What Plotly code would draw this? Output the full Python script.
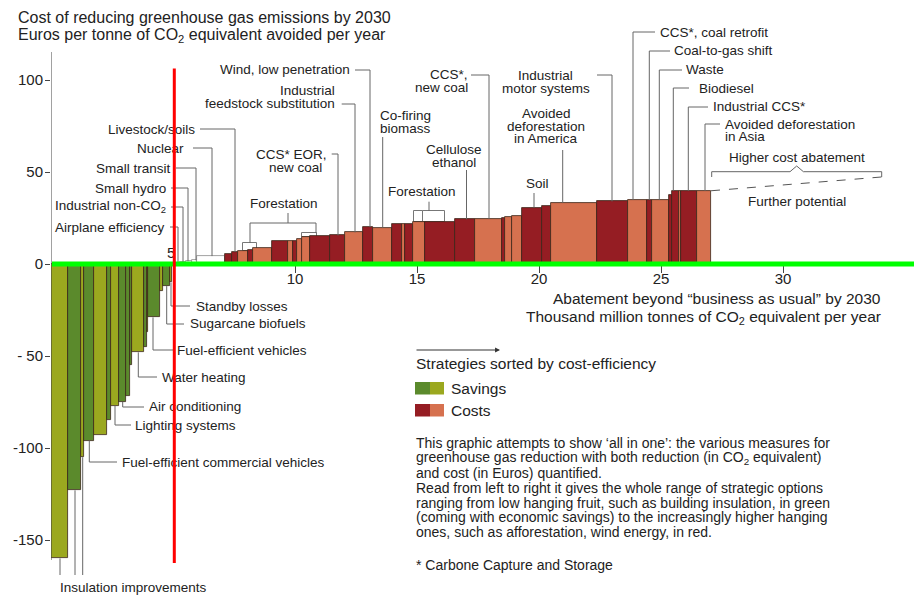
import numpy as np
import plotly.graph_objects as go

# ------------------------------------------------------------------ data
# Savings measures (negative cost), left to right: abatement width (Gt CO2e/yr) and cost (EUR/t)
saving_width = [0.71, 0.52, 0.14, 0.40, 0.52, 0.18, 0.30, 0.32, 0.16, 0.07,
                0.50, 0.12, 0.04, 0.49, 0.12, 0.29, 0.08]
saving_cost = [-160, -123, -105, -96, -93, -85, -77, -75, -72, -55,
               -48, -45, -37, -29, -14.5, -12, -10]
saving_shade = ['olive', 'green', 'olive', 'green', 'olive', 'green', 'olive', 'green', 'green', 'green',
                'olive', 'green', 'olive', 'green', 'olive', 'green', 'olive']

# Cost measures (positive cost), left to right
cost_width = [0.33, 0.25, 0.25, 0.20, 1.15, 0.27, 0.26, 0.41, 0.20, 0.77,
              0.68, 0.19, 0.16, 0.20, 0.33, 0.82, 0.61, 0.73, 0.41, 0.78,
              0.41, 0.14, 0.34, 0.48, 1.23, 0.82, 1.09, 0.14, 0.27, 0.41,
              0.82, 0.37, 1.91, 1.25, 0.78, 0.23, 0.66, 0.14, 0.27, 0.10,
              0.66, 0.57]
cost_value = [0.8, 1.2, 1.5, 2.0, 4.3, 5.3, 6.5, 7.2, 7.5, 8.7,
              12.5, 12.5, 12.5, 13.5, 14.5, 15.0, 15.5, 17.2, 20.0, 19.8,
              21.5, 21.5, 21.5, 22.6, 22.6, 24.3, 24.5, 25.0, 25.4, 26.0,
              30.7, 31.5, 33.3, 34.0, 34.8, 34.8, 34.8, 37.5, 39.8, 39.8,
              39.8, 39.8]
cost_shade = ['white', 'white', 'white', 'white', 'white', 'red', 'red', 'orange', 'red', 'orange',
              'red', 'orange', 'red', 'orange', 'orange', 'red', 'red', 'orange', 'red', 'orange',
              'red', 'orange', 'red', 'orange', 'red', 'red', 'orange', 'red', 'orange', 'orange',
              'red', 'red', 'orange', 'red', 'orange', 'red', 'orange', 'red', 'red', 'orange',
              'red', 'orange']

# Forestation (unfilled boxes stacked on top of the curve)
forest_start = [7.88, 10.27, 14.88, 15.26]
forest_width = [0.55, 0.62, 0.38, 0.89]
forest_base = [7.2, 14.5, 22.6, 22.6]
forest_top = [11.4, 16.8, 28.8, 28.8]

# Further potential (dashed projection)
further_end_x = 34.05
further_end_cost = 47.3

y_ticks = [-150, -100, -50, 0, 50, 100]
y_tick_text = ['-150', '-100', '- 50', '0', '50', '100']
x_ticks = [10, 15, 20, 25, 30]

# ------------------------------------------------------------------ layout helpers
W, H = 914, 599
ML = 51                    # left margin = pixel of x=0
PX0, PPX = 51.0, 24.4      # pixel of x=0, pixels per unit
PY0, PPY = 264.0, 1.84     # pixel of y=0, pixels per unit


def X(px):
    return (px - PX0) / PPX


def Y(py):
    return (PY0 - py) / PPY


def PXP(px):               # pixel -> paper x
    return (px - ML) / (W - ML)


def PYP(py):               # pixel -> paper y
    return 1 - py / H


FONT = "Liberation Sans, Arial, Helvetica, sans-serif"
TXT = "#222222"
LEAD = "#666666"
COLORS = {'olive': '#9ba81f', 'green': '#5b8a2c', 'red': '#951d23',
          'orange': '#d6714f', 'white': '#ffffff'}

widths = saving_width + cost_width
values = saving_cost + cost_value
shades = saving_shade + cost_shade
edges = np.concatenate([[0.0], np.cumsum(widths)])
centers = (edges[:-1] + edges[1:]) / 2


def top_at(xd):
    for s, w, t in zip(forest_start, forest_width, forest_top):
        if s <= xd <= s + w:
            return t
    i = int(np.searchsorted(edges, xd)) - 1
    i = min(max(i, 0), len(values) - 1)
    return values[i]


fig = go.Figure()

# forestation boxes (drawn first, bars overlay them)
fig.add_trace(go.Bar(
    x=[s + w / 2 for s, w in zip(forest_start, forest_width)],
    y=[t - b for t, b in zip(forest_top, forest_base)],
    base=forest_base, width=forest_width,
    marker=dict(color='white', line=dict(color='#777777', width=1)),
    hoverinfo='skip', showlegend=False))

# main abatement curve
fig.add_trace(go.Bar(
    x=centers, y=values, width=widths,
    marker=dict(color=[COLORS[s] for s in shades],
                line=dict(color=['#8a8a8a' if s == 'white' else '#3a2418' for s in shades],
                          width=0.8)),
    hoverinfo='skip', showlegend=False))

# ------------------------------------------------------------------ leaders
lx, ly = [], []


def path(points, attach=None):
    xs = [X(p[0]) for p in points]
    ys = [Y(p[1]) for p in points]
    if attach is not None:
        xs.append(X(attach))
        ys.append(top_at(X(attach)))
    lx.extend(xs + [None])
    ly.extend(ys + [None])


annos = []


def label(lines, px, py, xanchor='left', size=13.5, dy=13.0):
    if isinstance(lines, str):
        lines = [lines]
    for k, t in enumerate(lines):
        annos.append(dict(x=PXP(px), y=PYP(py + k * dy), xref='paper', yref='paper',
                          text=t, showarrow=False, borderpad=0,
                          xanchor=xanchor, yanchor='middle',
                          font=dict(size=size, family=FONT, color=TXT)))


# left small-cost labels (right aligned)
label("Livestock/soils", 196, 129, 'right'); path([(200, 129), (235, 129)], 235)
label("Nuclear", 185, 148, 'right'); path([(193, 148), (212, 148)], 212)
label("Small transit", 172, 168, 'right'); path([(176, 168), (196, 168)], 196)
label("Small hydro", 167, 188, 'right'); path([(171, 188), (188, 188)], 188)
label("Industrial non-CO<sub>2</sub>", 167, 207, 'right'); path([(171, 207), (183, 207)], 183)
label("Airplane efficiency", 166, 227, 'right'); path([(170, 227), (178, 227)], 178)

# top middle labels
label("Wind, low penetration", 351, 70, 'right'); path([(355, 70), (370, 70)], 370)
label(["Industrial", "feedstock substitution"], 336, 90, 'right', dy=14)
path([(341.7, 104), (355, 104)], 355)
label("CCS* EOR,", 328, 154, 'right'); label("new coal", 323, 167, 'right')
path([(331.7, 154), (338, 154)], 338)
label(["Co-firing", "biomass"], 379, 115, 'left', dy=13); path([(382.7, 137)], 382.7)
label(["CCS*,", "new coal"], 469, 75, 'right'); path([(471, 75), (489, 75)], 489)
label(["Cellulose", "ethanol"], 454, 149, 'center', dy=13); path([(466.5, 170)], 466.5)
label(["Industrial", "motor systems"], 545.7, 76, 'center', dy=13); path([(597, 75), (612, 75)], 612)
label(["Avoided", "deforestation", "in America"], 546, 113, 'center', dy=13); path([(562.7, 150)], 562.7)
label("Soil", 537.7, 183, 'center'); path([(534, 193)], 534)

# forestation brackets
label("Forestation", 284, 204, 'center')
path([(250, 223), (316, 223)])
path([(250, 223)], 250)
path([(316, 223)], 316)
path([(288, 223), (288, 213)])
label("Forestation", 421.7, 191.7, 'center')
path([(429, 211), (429, 201.7)])

# right labels
label("CCS*, coal retrofit", 659, 32, 'left'); path([(655, 32), (633, 32)], 633)
label("Coal-to-gas shift", 672.7, 51, 'left'); path([(670, 51), (649.3, 51)], 649.3)
label("Waste", 685, 70, 'left'); path([(682, 70), (659.3, 70)], 659.3)
label("Biodiesel", 698, 89, 'left'); path([(689, 88), (673.3, 88)], 673.3)
label("Industrial CCS*", 711.7, 107, 'left'); path([(708, 107), (688.3, 107)], 688.3)
label(["Avoided deforestation", "in Asia"], 724, 124, 'left', dy=13); path([(720, 124), (705, 124)], 705)
label("Higher cost abatement", 796.7, 157, 'center')
path([(711.7, 177), (711.7, 171.7), (790, 171.7), (796.7, 166), (803.4, 171.7),
      (881.7, 171.7), (881.7, 177)])
label("Further potential", 797, 201, 'center')

# savings labels (bottom left)
label("Standby losses", 195, 306); path([(190, 306), (171, 306)], 171)
label("Sugarcane biofuels", 189, 324); path([(184, 324), (166.7, 324)], 166.7)
label("Fuel-efficient vehicles", 176, 350.5); path([(174, 350), (153, 350)], 153)
label("Water heating", 161, 377); path([(157, 377), (138.3, 377)], 138.3)
label("Air conditioning", 148, 407); path([(144, 407), (122.7, 407)], 122.7)
label("Lighting systems", 134, 425); path([(131, 425), (115, 425)], 115)
label("Fuel-efficient commercial vehicles", 121, 462); path([(117, 462), (89.3, 462)], 89.3)
label("Insulation improvements", 59, 587)
path([(60, 575)], 60); path([(75, 575)], 75); path([(82.7, 575)], 82.7)

fig.add_trace(go.Scatter(x=lx, y=ly, mode='lines', line=dict(color=LEAD, width=1),
                         hoverinfo='skip', showlegend=False))

# further potential dashed line
fig.add_trace(go.Scatter(x=[edges[-1], further_end_x], y=[values[-1], further_end_cost],
                         mode='lines', line=dict(color='#555555', width=1, dash='dash'),
                         hoverinfo='skip', showlegend=False))

# "5" marker above axis
label("5", 170.5, 252, 'center', size=15)

# titles
label("Cost of reducing greenhouse gas emissions by 2030", 17, 17, 'left', size=16)
label("Euros per tonne of CO<sub>2</sub> equivalent avoided per year", 17, 36, 'left', size=16)
label("Abatement beyond “business as usual” by 2030", 882, 298, 'right', size=15.5)
label("Thousand million tonnes of CO<sub>2</sub> equivalent per year", 882, 317, 'right', size=15.5)

# legend block
label("Strategies sorted by cost-efficiency", 415, 363, 'left', size=15.5)
label("Savings", 450, 388, 'left', size=15.5)
label("Costs", 450, 410.5, 'left', size=15.5)
para = ["This graphic attempts to show ‘all in one’: the various measures for",
        "greenhouse gas reduction with both reduction (in CO<sub>2</sub> equivalent)",
        "and cost (in Euros) quantified.",
        "Read from left to right it gives the whole range of strategic options",
        "ranging from low hanging fruit, such as building insulation, in green",
        "(coming with economic savings) to the increasingly higher hanging",
        "ones, such as afforestation, wind energy, in red."]
label(para, 415, 443.3, 'left', size=14, dy=14.8)
label("* Carbone Capture and Storage", 415, 565, 'left', size=14)

# arrow above legend heading
annos.append(dict(x=PXP(500), y=PYP(350), xref='paper', yref='paper', ax=-85, ay=0,
                  text='', showarrow=True, arrowhead=2, arrowsize=0.9, arrowwidth=1.1,
                  arrowcolor='#333333'))
# red marker line (on top of everything)
annos.append(dict(x=PXP(174.3), y=PYP(563), xref='paper', yref='paper', ax=0, ay=-496,
                  text='', showarrow=True, arrowhead=0, arrowwidth=3,
                  arrowcolor='#ff0000', standoff=0, startstandoff=0))

shapes = []
# y axis line
shapes.append(dict(type='line', x0=0, x1=0, y0=Y(560), y1=Y(52), xref='x', yref='y',
                   line=dict(color='#444444', width=1)))
# green baseline
shapes.append(dict(type='line', x0=X(52), x1=X(914), y0=0, y1=0, xref='x', yref='y',
                   line=dict(color='#00ff00', width=5), layer='above'))
# legend swatches
for (x0, x1, y0, y1, c) in [(415, 430, 382, 394.5, 'green'), (430, 444, 382, 394.5, 'olive'),
                            (415, 430, 404, 416.5, 'red'), (430, 444, 404, 416.5, 'orange')]:
    shapes.append(dict(type='rect', x0=X(x0), x1=X(x1), y0=Y(y1), y1=Y(y0), xref='x', yref='y',
                       fillcolor=COLORS[c], line=dict(width=0)))

fig.update_layout(
    width=W, height=H,
    margin=dict(l=ML, r=0, t=0, b=0),
    paper_bgcolor='white', plot_bgcolor='white',
    barmode='overlay', bargap=0, showlegend=False,
    annotations=annos, shapes=shapes,
    xaxis=dict(range=[0, (W - PX0) / PPX], anchor='free', position=1 - PY0 / H,
               tickvals=x_ticks, ticks='outside', ticklen=8, tickcolor='#444444',
               ticklabelstandoff=-7,
               showgrid=False, zeroline=False, showline=False,
               tickfont=dict(size=15, family=FONT, color=TXT)),
    yaxis=dict(range=[Y(H), Y(0)], tickvals=y_ticks, ticktext=y_tick_text,
               ticks='outside', ticklen=5, tickcolor='#444444', ticklabelstandoff=-1,
               showgrid=False, zeroline=False, showline=False,
               tickfont=dict(size=15, family=FONT, color=TXT)),
)

fig.write_html("out.html", config={'displayModeBar': False},
               post_script="document.body.style.margin='0px';document.body.style.padding='0px';")
